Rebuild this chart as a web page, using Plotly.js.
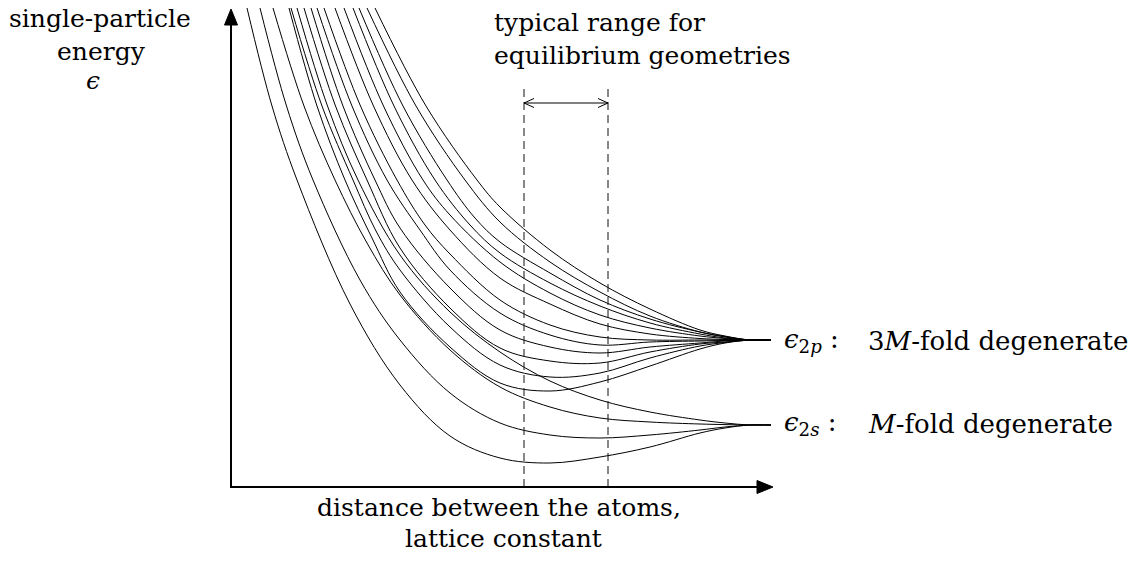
<!DOCTYPE html>
<html>
<head>
<meta charset="utf-8">
<script src="https://cdn.plot.ly/plotly-3.0.1.min.js"></script>
<style>
  html, body { margin: 0; padding: 0; background: #ffffff; }
  #chart { width: 1140px; height: 570px; }
</style>
</head>
<body>
<div id="chart"></div>
<script>
// Single-particle energy bands against interatomic distance (arbitrary units).
// Atomic levels that the bands collapse onto at large separation.
const EPS_2S = 6.2;
const EPS_2P = 14.7;

// 2s-derived bands (M of them), lowest first
const s1X = [1.6, 4.1, 6.6, 11.9, 16.9, 21.9, 26.9, 31.9, 36.9, 41.9, 46.9, 49.4, 51.9, 54.0];
const s1Y = [47.9, 38.1, 30.7, 18.3, 10.2, 5.1, 2.9, 2.4, 3.0, 4.0, 5.4, 5.9, 6.2, 6.2];
const s2X = [2.9, 5.55, 8.2, 12.9, 16.9, 21.9, 26.9, 31.9, 36.9, 41.9, 46.9, 49.4, 51.9, 54.0];
const s2Y = [47.9, 38.1, 30.7, 20.7, 14.7, 9.4, 6.4, 5.2, 4.9, 5.2, 5.7, 6.0, 6.2, 6.2];
const s3X = [4.2, 7.3, 10.4, 13.6, 16.9, 21.9, 26.9, 31.9, 36.9, 41.9, 46.9, 49.4, 51.9, 54.0];
const s3Y = [47.9, 38.1, 30.7, 24.4, 19.2, 13.7, 10.0, 8.0, 6.9, 6.5, 6.3, 6.24, 6.2, 6.2];
const s4X = [6.6, 9.65, 12.7, 16.9, 21.9, 26.9, 31.9, 36.9, 41.9, 46.9, 49.4, 51.9, 54.0];
const s4Y = [47.9, 38.1, 30.7, 23.2, 17.5, 13.5, 10.6, 8.7, 7.5, 6.7, 6.4, 6.2, 6.2];

// 2p-derived bands (3M of them), numbered from the highest down
const p1X = [14.4, 19.5, 24.6, 26.9, 31.9, 36.9, 41.9, 46.9, 49.4, 51.9, 54.0];
const p1Y = [47.9, 38.1, 30.7, 28.0, 23.7, 20.4, 17.8, 15.7, 15.1, 14.7, 14.7];
const p2X = [13.6, 18.5, 23.4, 26.9, 31.9, 36.9, 41.9, 46.9, 49.4, 51.9, 54.0];
const p2Y = [47.9, 38.1, 30.7, 26.5, 22.5, 19.5, 17.1, 15.5, 15.0, 14.7, 14.7];
const p3X = [12.8, 17.2, 21.6, 24.4, 26.9, 31.9, 36.9, 41.9, 46.9, 49.4, 51.9, 54.0];
const p3Y = [47.9, 38.1, 30.7, 26.9, 24.5, 21.4, 18.7, 16.8, 15.5, 15.05, 14.7, 14.7];
const p4X = [12.2, 16.3, 20.4, 23.9, 26.9, 31.9, 36.9, 41.9, 46.9, 49.4, 51.9, 54.0];
const p4Y = [47.9, 38.1, 30.7, 26.2, 23.4, 20.4, 18.1, 16.4, 15.3, 14.9, 14.7, 14.7];
const p5X = [11.3, 15.25, 19.2, 21.9, 26.9, 31.9, 36.9, 41.9, 46.9, 49.4, 51.9, 54.0];
const p5Y = [47.9, 38.1, 30.7, 27.2, 22.5, 19.4, 17.2, 15.9, 15.1, 14.85, 14.7, 14.7];
const p6X = [10.4, 14.25, 18.1, 21.9, 26.9, 31.9, 36.9, 41.9, 46.9, 49.4, 51.9, 54.0];
const p6Y = [47.9, 38.1, 30.7, 25.7, 20.9, 18.3, 16.3, 15.3, 14.85, 14.75, 14.7, 14.7];
const p7X = [9.3, 12.95, 16.6, 19.4, 21.9, 26.9, 31.9, 36.9, 41.9, 46.9, 49.4, 51.9, 54.0];
const p7Y = [47.9, 38.1, 30.7, 26.2, 23.3, 18.7, 16.2, 15.0, 14.7, 14.7, 14.7, 14.7, 14.7];
const p8X = [8.6, 12.1, 15.6, 18.9, 21.9, 26.9, 31.9, 36.9, 41.9, 46.9, 49.4, 51.9, 54.0];
const p8Y = [47.9, 38.1, 30.7, 25.7, 21.7, 17.4, 15.2, 14.2, 14.5, 14.6, 14.65, 14.7, 14.7];
const p9X = [8.0, 11.2, 14.4, 16.9, 21.9, 26.9, 31.9, 36.9, 41.9, 46.9, 49.4, 51.9, 54.0];
const p9Y = [47.9, 38.1, 30.7, 25.9, 19.9, 15.7, 14.0, 13.4, 14.0, 14.4, 14.6, 14.7, 14.7];
const p10X = [7.3, 10.45, 13.6, 16.9, 21.9, 26.9, 31.9, 36.9, 41.9, 46.9, 49.4, 51.9, 54.0];
const p10Y = [47.9, 38.1, 30.7, 23.9, 17.9, 13.9, 12.6, 12.4, 13.5, 14.3, 14.5, 14.7, 14.7];
const p11X = [6.0, 9.1, 12.2, 14.5, 16.9, 21.9, 26.9, 31.9, 36.9, 41.9, 46.9, 49.4, 51.9, 54.0];
const p11Y = [47.9, 38.1, 30.7, 25.6, 21.7, 16.0, 12.2, 11.0, 11.4, 12.9, 14.1, 14.45, 14.7, 14.7];
const p12X = [5.8, 8.6, 11.4, 14.1, 16.9, 21.9, 26.9, 31.9, 36.9, 41.9, 46.9, 49.4, 51.9, 54.0];
const p12Y = [47.9, 38.1, 30.7, 24.9, 19.5, 14.0, 10.4, 9.6, 10.5, 12.1, 13.8, 14.4, 14.7, 14.7];

// Range of typical equilibrium distances
const EQ_RANGE = [29.3, 37.7];

const bands = [
  [s1X, s1Y], [s2X, s2Y], [s3X, s3Y], [s4X, s4Y],
  [p1X, p1Y], [p2X, p2Y], [p3X, p3Y], [p4X, p4Y], [p5X, p5Y], [p6X, p6Y],
  [p7X, p7Y], [p8X, p8Y], [p9X, p9Y], [p10X, p10Y], [p11X, p11Y], [p12X, p12Y]
];

const traces = bands.map(([x, y]) => ({
  type: 'scatter', mode: 'lines', x: x, y: y,
  line: { color: '#000000', width: 1, shape: 'spline', smoothing: 1 },
  hoverinfo: 'skip'
}));

// Axis ranges leave a little room below/left of the origin for the arrow heads
const X_RANGE = [-1.0, 54.9];
const Y_RANGE = [-1.0, 48.7];
const ink = '#000000';
const FONT = 'DejaVu Serif';

const shapes = [
  // vertical axis with filled arrow head
  { type: 'line', xref: 'x', yref: 'y', x0: 0, y0: -0.1, x1: 0, y1: 46.4, line: { color: ink, width: 2 } },
  { type: 'path', xref: 'x', yref: 'y', path: 'M-0.65,46.2L0,47.8L0.65,46.2Z', fillcolor: ink, line: { color: ink, width: 1 } },
  // horizontal axis with filled arrow head
  { type: 'line', xref: 'x', yref: 'y', x0: -0.1, y0: 0, x1: 52.8, y1: 0, line: { color: ink, width: 2 } },
  { type: 'path', xref: 'x', yref: 'y', path: 'M52.6,0.65L54.2,0L52.6,-0.65Z', fillcolor: ink, line: { color: ink, width: 1 } },
  // dashed markers for the equilibrium range
  { type: 'line', xref: 'x', yref: 'y', x0: EQ_RANGE[0], x1: EQ_RANGE[0], y0: 0, y1: 40.0, line: { color: '#111111', width: 1, dash: '8px,5px' } },
  { type: 'line', xref: 'x', yref: 'y', x0: EQ_RANGE[1], x1: EQ_RANGE[1], y0: 0, y1: 40.0, line: { color: '#111111', width: 1, dash: '8px,5px' } },
  // double-headed arrow between them
  { type: 'line', xref: 'x', yref: 'y', x0: EQ_RANGE[0], x1: EQ_RANGE[1], y0: 38.4, y1: 38.4, line: { color: ink, width: 1 } },
  { type: 'path', xref: 'x', yref: 'y', path: `M${EQ_RANGE[0] + 1.0},38.85L${EQ_RANGE[0]},38.4L${EQ_RANGE[0] + 1.0},37.95`, line: { color: ink, width: 1 } },
  { type: 'path', xref: 'x', yref: 'y', path: `M${EQ_RANGE[1] - 1.0},38.85L${EQ_RANGE[1]},38.4L${EQ_RANGE[1] - 1.0},37.95`, line: { color: ink, width: 1 } }
];

function note(text, x, y, xanchor, size) {
  return {
    text: text, xref: 'paper', yref: 'paper', x: x, y: y,
    xanchor: xanchor, yanchor: 'middle', showarrow: false, borderpad: 0,
    font: { family: FONT, size: size, color: ink }
  };
}

const annotations = [
  note('single-particle', -0.2165, 0.9618, 'center', 25),
  note('energy', -0.2129, 0.8954, 'center', 25),
  note('<i>ϵ</i>', -0.2290, 0.8390, 'center', 25),
  note('typical range for', 0.4866, 0.9557, 'left', 25),
  note('equilibrium geometries', 0.4866, 0.8883, 'left', 25),
  note('distance between the atoms,', 0.4973, -0.0221, 'center', 25),
  note('lattice constant', 0.5045, -0.0845, 'center', 25),
  note('<i>ϵ</i><sub>2<i>p</i></sub> :', 1.0054, 0.3139, 'left', 26),
  note('3<i>M</i>-fold degenerate', 1.1556, 0.3139, 'left', 26),
  note('<i>ϵ</i><sub>2<i>s</i></sub> :', 1.0054, 0.1469, 'left', 26),
  note('<i>M</i>-fold degenerate', 1.1556, 0.1469, 'left', 26)
];

const layout = {
  width: 1140, height: 570,
  margin: { l: 221, r: 360, t: 0, b: 73, pad: 0, autoexpand: false },
  paper_bgcolor: '#ffffff', plot_bgcolor: '#ffffff',
  showlegend: false,
  xaxis: { range: X_RANGE, visible: false, fixedrange: true },
  yaxis: { range: Y_RANGE, visible: false, fixedrange: true },
  shapes: shapes,
  annotations: annotations
};

Plotly.newPlot('chart', traces, layout, { staticPlot: true, displayModeBar: false });
</script>
</body>
</html>
